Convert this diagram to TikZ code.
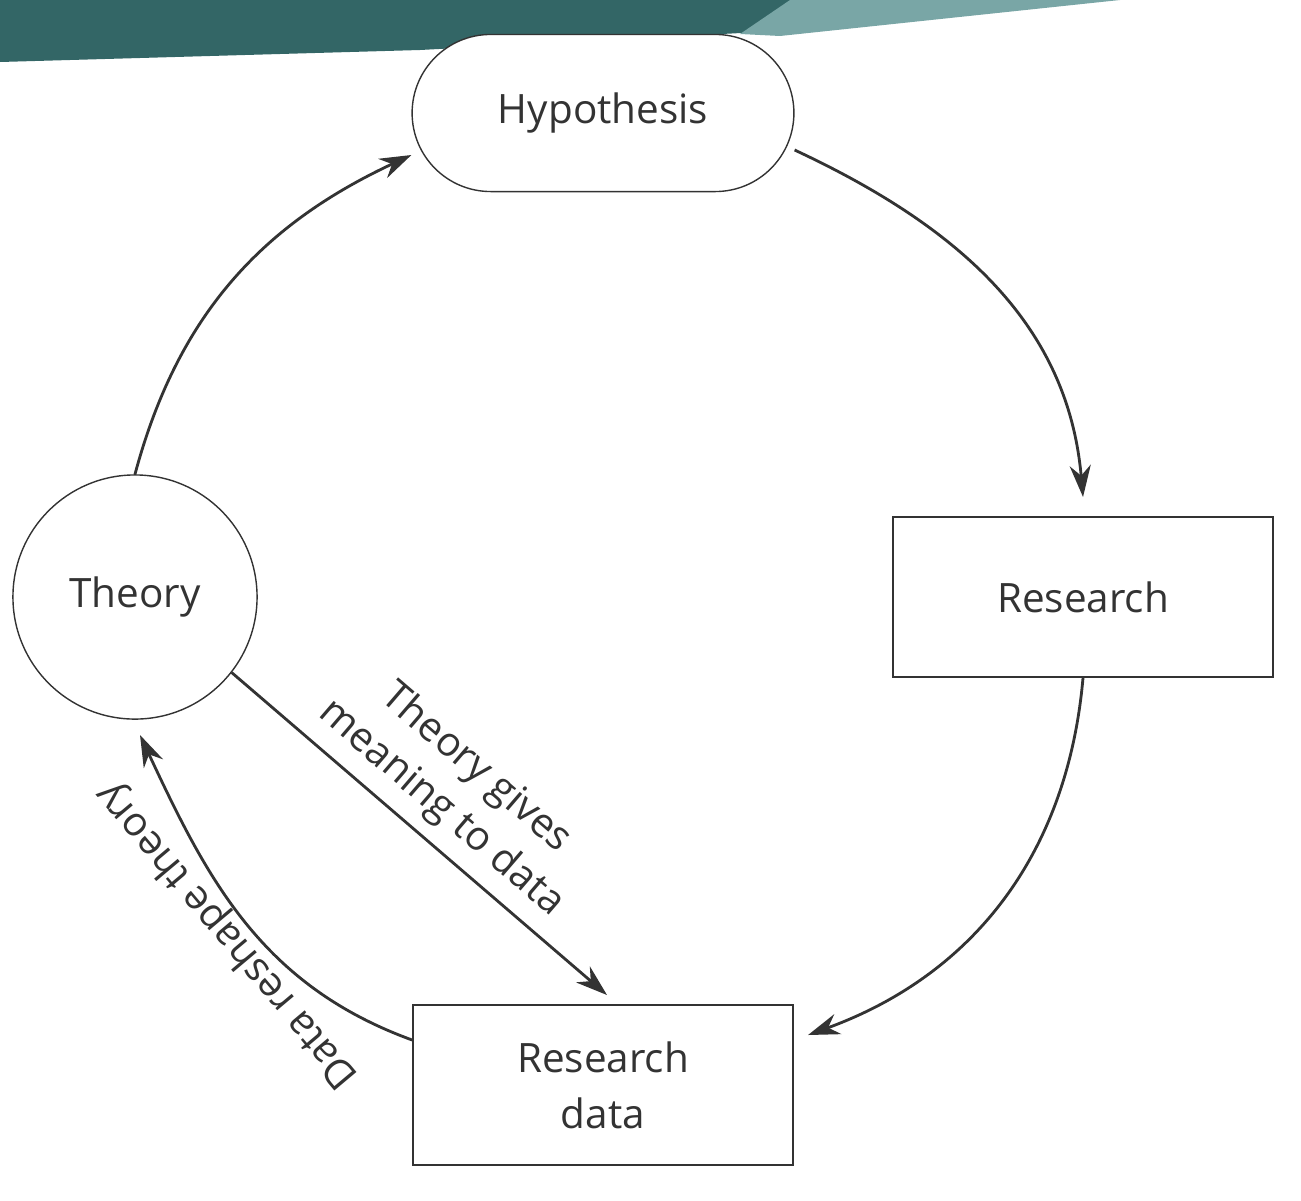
\documentclass[tikz,border=0pt]{standalone}
\usepackage{fontspec}
\setmainfont{Open Sans}
\usetikzlibrary{arrows.meta, positioning, shapes.misc}

\tikzset{
  stagebox/.style={draw=black!80, fill=white, minimum width=3.8cm, minimum height=1.6cm, align=center, font=\fontsize{11.5}{16}\selectfont, text=black!80},
  cycarrow/.style={-{Stealth[length=9pt,width=6pt]}, draw=black!80, thick}
}

\begin{document}
\begin{tikzpicture}[x=0.01cm, y=-0.01cm]
\useasboundingbox (0,0) rectangle (1301,1200);

% Banner
\fill[teal!50!black!80] (0,0) -- (800,0) -- (760,32) -- (420,50) -- (0,62) -- cycle;
\fill[teal!50!gray!70] (790,0) -- (1120,0) -- (780,36) -- (740,34) -- cycle;

% Stages
\node[stagebox, rounded rectangle, minimum width=4.05cm, minimum height=1.57cm] (hyp) at (603,113) {Hypothesis};
\node[stagebox] (res) at (1083,597) {Research};
\node[stagebox] (data) at (603,1085) {Research\\data};
\node[stagebox, circle, minimum size=2.44cm] (theory) at (135,597) {Theory};

% Cycle
\draw[cycarrow] (theory.north) to[out=75, in=205] (hyp.west |- 0,155);
\draw[cycarrow] (hyp.east |- 0,150) to[out=-25, in=95] (res.north |- 0,497);
\draw[cycarrow] (res.south) to[out=-95, in=20] (808,1035);
\draw[cycarrow] (theory.-38) -- (607,995)
  node[midway, above, sloped, align=center, font=\fontsize{11.5}{15}\selectfont, text=black!80] {Theory gives\\meaning to data};
\draw[cycarrow] (data.west |- 0,1040) to[out=160, in=-65] (140,735);
\node[rotate=130, font=\fontsize{11.5}{15}\selectfont, text=black!80] (lbl) at (228,935) {Data reshape theory};

\end{tikzpicture}
\end{document}
